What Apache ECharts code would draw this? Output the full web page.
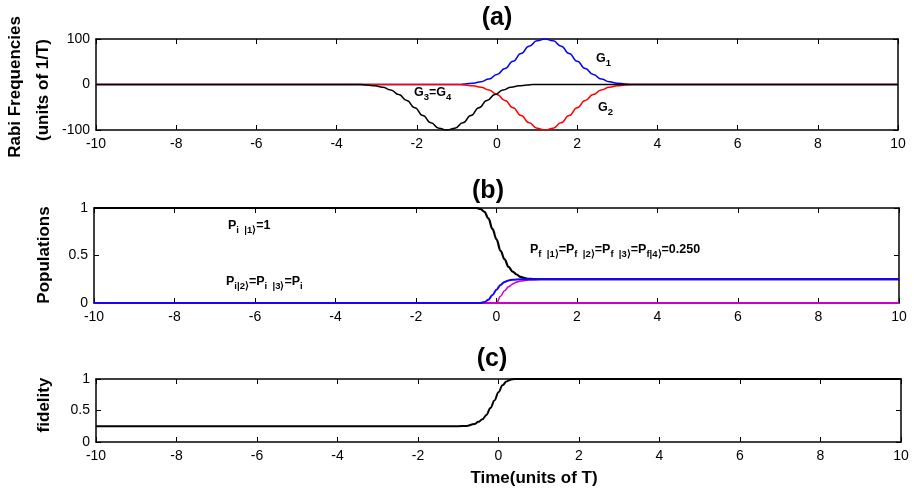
<!DOCTYPE html>
<html>
<head>
<meta charset="utf-8">
<script src="https://cdn.jsdelivr.net/npm/echarts@6/dist/echarts.min.js"></script>
<style>
html,body{margin:0;padding:0;background:#fff;}
#chart{width:917px;height:496px;}
</style>
</head>
<body>
<div id="chart"></div>
<script>
// ---------- DATA ----------
const xTicks = [-10, -8, -6, -4, -2, 0, 2, 4, 6, 8, 10];
const yTicksA = [-100, 0, 100];
const yTicksB = [0, 0.5, 1];
const yTicksC = [0, 0.5, 1];

// (a) Rabi frequencies
const timeG12 = [-10, -0.95, -0.8, -0.6, -0.4, -0.2, 0, 0.2, 0.4, 0.6, 0.8, 1.0, 1.2, 1.4, 1.6, 1.8, 2.0, 2.2, 2.4, 2.6, 2.8, 3.0, 3.2, 3.35, 10];
const rabiG1 = [0, 0, 1, 3, 6, 12, 22, 35, 51, 68, 84, 96, 100, 96, 84, 68, 51, 35, 22, 12, 6, 3, 1, 0, 0];
const rabiG2 = [0, 0, -1, -3, -6, -12, -22, -35, -51, -68, -84, -96, -100, -96, -84, -68, -51, -35, -22, -12, -6, -3, -1, 0, 0];
const timeG34 = [-10, -3.4, -3.25, -3.05, -2.85, -2.65, -2.45, -2.25, -2.05, -1.85, -1.65, -1.45, -1.25, -1.05, -0.85, -0.65, -0.45, -0.25, -0.05, 0.15, 0.35, 0.55, 0.75, 0.9, 10];
const rabiG34 = [0, 0, -1, -3, -6, -12, -22, -35, -51, -68, -84, -96, -100, -96, -84, -68, -51, -35, -22, -12, -6, -3, -1, 0, 0];

// (b) Populations
const timeP1 = [-10, -0.5, -0.4, -0.3, -0.2, -0.1, 0, 0.1, 0.2, 0.3, 0.4, 0.5, 0.6, 0.7, 0.8, 0.9, 1.0, 10];
const popP1 = [1, 1, 0.99, 0.96, 0.89, 0.78, 0.67, 0.55, 0.46, 0.38, 0.33, 0.3, 0.275, 0.262, 0.255, 0.252, 0.25, 0.25];
const timeP2 = [-10, -0.4, -0.3, -0.2, -0.1, 0, 0.1, 0.2, 0.3, 0.4, 0.6, 0.8, 10];
const popP2 = [0, 0, 0.01, 0.035, 0.085, 0.14, 0.19, 0.222, 0.238, 0.245, 0.249, 0.25, 0.25];
const timeP3 = [-10, 0, 0.1, 0.2, 0.3, 0.4, 0.5, 0.6, 0.8, 1.0, 1.2, 10];
const popP3 = [0, 0, 0.07, 0.13, 0.17, 0.2, 0.22, 0.232, 0.243, 0.248, 0.25, 0.25];
const timeP4 = [-10, 10];
const popP4 = [0, 0];

// (c) Fidelity
const timeF = [-10, -1.0, -0.8, -0.6, -0.5, -0.4, -0.3, -0.2, -0.1, 0, 0.1, 0.2, 0.3, 0.4, 10];
const fidelity = [0.25, 0.25, 0.255, 0.285, 0.32, 0.36, 0.43, 0.54, 0.66, 0.79, 0.9, 0.96, 0.99, 1.0, 1.0];

// ---------- CHART ----------
const F = '"Liberation Sans", Arial, Helvetica, sans-serif';
const pairs = (xs, ys) => xs.map((x, i) => [x, ys[i]]);

const grids = [
  {left: 96, right: 19, top: 39, height: 91},
  {left: 94, right: 18, top: 208, height: 95},
  {left: 96, right: 16, top: 379, height: 63}
];
const yRanges = [
  {min: yTicksA[0], max: yTicksA[2], interval: yTicksA[1] - yTicksA[0]},
  {min: yTicksB[0], max: yTicksB[2], interval: yTicksB[1] - yTicksB[0]},
  {min: yTicksC[0], max: yTicksC[2], interval: yTicksC[1] - yTicksC[0]}
];

const axisLineStyle = {show: true, onZero: false, lineStyle: {color: '#000', width: 1.5}};
const tickStyle = {show: true, inside: true, length: 5, lineStyle: {color: '#000', width: 1}};
const labelStyle = {color: '#000', fontSize: 14, fontFamily: F, margin: 7};

const xAxes = [], yAxes = [];
grids.forEach((g, i) => {
  xAxes.push({type: 'value', gridIndex: i, min: xTicks[0], max: xTicks[xTicks.length - 1], interval: xTicks[1] - xTicks[0],
    position: 'bottom', axisLine: axisLineStyle, axisTick: tickStyle, axisLabel: labelStyle, splitLine: {show: false}});
  xAxes.push({type: 'value', gridIndex: i, min: xTicks[0], max: xTicks[xTicks.length - 1], interval: xTicks[1] - xTicks[0],
    position: 'top', axisLine: axisLineStyle, axisTick: tickStyle, axisLabel: {show: false}, splitLine: {show: false}});
  yAxes.push(Object.assign({type: 'value', gridIndex: i, position: 'left', axisLine: axisLineStyle, axisTick: tickStyle,
    axisLabel: Object.assign({}, labelStyle, {margin: 6}), splitLine: {show: false}}, yRanges[i]));
  yAxes.push(Object.assign({type: 'value', gridIndex: i, position: 'right', axisLine: axisLineStyle, axisTick: tickStyle,
    axisLabel: {show: false}, splitLine: {show: false}}, yRanges[i]));
});

function line(name, xs, ys, color, width, gi, smooth) {
  return {name, type: 'line', xAxisIndex: gi * 2, yAxisIndex: gi * 2, data: pairs(xs, ys),
    showSymbol: false, symbol: 'none', smooth: smooth, smoothMonotone: 'x',
    lineStyle: {color, width}, itemStyle: {color}, animation: false, clip: true};
}

const series = [
  line('G1', timeG12, rabiG1, '#0000ff', 1.5, 0, 0.5),
  line('G2', timeG12, rabiG2, '#ff0000', 1.5, 0, 0.5),
  line('G3=G4', timeG34, rabiG34, '#000000', 1.5, 0, 0.5),
  line('P4', timeP4, popP4, '#cc00cc', 2, 1, 0),
  line('P3', timeP3, popP3, '#cc00cc', 1.5, 1, 0.4),
  line('P1', timeP1, popP1, '#000000', 2.2, 1, 0.4),
  line('P2', timeP2, popP2, '#1a00ff', 2, 1, 0.4),
  line('fidelity', timeF, fidelity, '#000000', 2, 2, 0.4)
];

const rich = {
  m: {fontFamily: F, fontWeight: 'bold', fontSize: 12.5, verticalAlign: 'top', fill: '#000'},
  s: {fontFamily: F, fontWeight: 'bold', fontSize: 9.5, lineHeight: 23, fill: '#000'}
};
function lbl(text, x, y) {
  return {type: 'text', x, y, style: {text, rich, fill: '#000', align: 'left', verticalAlign: 'top',
    font: 'bold 12px ' + F}};
}
function bigText(text, x, y, size, rot) {
  return {type: 'text', x, y, rotation: rot || 0,
    style: {text, fill: '#000', font: 'bold ' + size + 'px ' + F, align: 'center', verticalAlign: 'middle'}};
}

const graphic = [
  bigText('(a)', 497, 18, 25),
  bigText('(b)', 488, 191, 25),
  bigText('(c)', 492, 359, 25),
  bigText('Rabi Frequencies', 15, 87, 17, Math.PI / 2),
  bigText('(units of 1/T)', 43, 90, 17, Math.PI / 2),
  bigText('Populations', 44, 255, 17, Math.PI / 2),
  bigText('fidelity', 44, 405, 17, Math.PI / 2),
  bigText('Time(units of T)', 534, 478, 17),
  lbl('{m|G}{s|1}', 596, 52),
  lbl('{m|G}{s|2}', 598, 101),
  lbl('{m|G}{s|3}{m|=G}{s|4}', 414, 86),
  lbl('{m|P}{s|i  |1⟩}{m|=1}', 228, 219),
  lbl('{m|P}{s|i|2⟩}{m|=P}{s|i  |3⟩}{m|=P}{s|i}', 226, 275),
  lbl('{m|P}{s|f  |1⟩}{m|=P}{s|f  |2⟩}{m|=P}{s|f  |3⟩}{m|=P}{s|f|4⟩}{m|=0.250}', 530, 243)
];

const chart = echarts.init(document.getElementById('chart'), null, {renderer: 'canvas'});
chart.setOption({
  animation: false,
  backgroundColor: '#fff',
  grid: grids,
  xAxis: xAxes,
  yAxis: yAxes,
  series,
  graphic
});
</script>
</body>
</html>
